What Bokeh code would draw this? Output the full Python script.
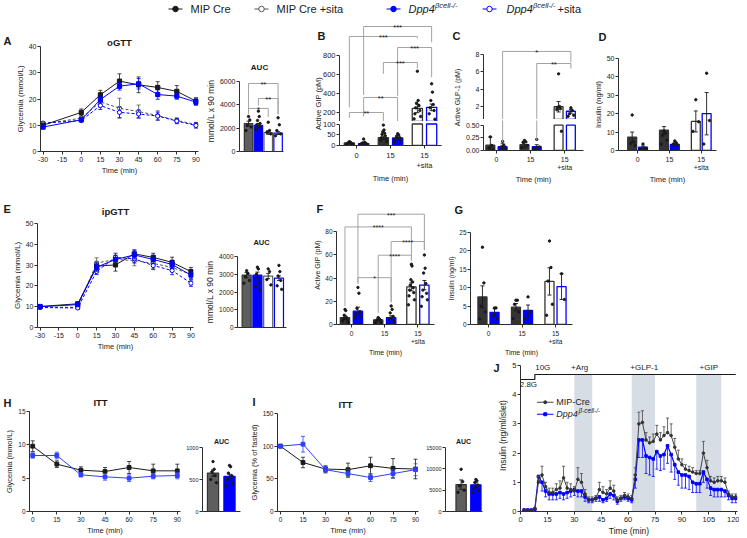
import math
from bokeh.plotting import figure
from bokeh.layouts import column, row
from bokeh.models import Range1d, FixedTicker, Label, NumeralTickFormatter, Spacer
from bokeh.embed import file_html
from bokeh.resources import INLINE
from bokeh.core.properties import value

FONT = "Liberation Sans"
INK = "#1a1a1a"
AX = "#2e2e2e"
BLUE = "#0000ff"
DARK = "#333333"
GRAY = "#5e5e5e"
BRK = "#a3a3a3"
SHADE = "#d7dde5"
INF = float("inf")

# ============================ data ============================
gtt_ticks = [-30, -15, 0, 15, 30, 45, 60, 75, 90]
gtt_tick_labels = ["-30", "-15", "0", "15", "30", "45", "60", "75", "90"]
gtt_time = [-30, 0, 15, 30, 45, 60, 75, 90]

# A  oGTT
ogtt_cre = [10.0, 14.9, 21.6, 26.8, 25.4, 24.4, 22.9, 19.2]
ogtt_cre_se = [0.8, 1.3, 1.7, 2.8, 3.0, 2.2, 2.2, 1.3]
ogtt_ko = [9.3, 12.1, 19.8, 24.9, 25.8, 21.7, 21.1, 18.8]
ogtt_ko_se = [0.6, 0.6, 1.2, 1.5, 2.0, 1.8, 1.2, 1.2]
ogtt_cre_sita = [10.5, 12.7, 18.9, 16.5, 15.2, 13.7, 11.8, 10.3]
ogtt_cre_sita_se = [0.6, 0.8, 1.5, 3.8, 2.5, 1.8, 1.0, 0.8]
ogtt_ko_sita = [10.8, 11.8, 17.5, 14.9, 14.3, 13.5, 11.6, 9.9]
ogtt_ko_sita_se = [0.6, 0.5, 1.5, 2.0, 1.5, 1.5, 1.0, 1.0]

ogtt_auc = [2400, 2250, 1620, 1580]
ogtt_auc_se = [200, 150, 150, 120]
ogtt_auc_pts = [[3000, 2700, 2230, 2100, 1800],
                [3460, 3000, 2660, 2400, 2290, 2090, 1910],
                [2510, 1800, 1650, 1510],
                [2890, 2290, 1800, 1510, 1350]]
ogtt_auc_sig = [("**", 0, 3, 5830, 3340, 3170),
                ("**", 1, 3, 4540, 3940, 3220),
                ("*", 0, 2, 3690, 3220, 2950)]

time_groups = ["0", "15", "15\n+sita"]

# B  active GIP after oral glucose
gip_o_cre = [12, 36, 238]
gip_o_cre_se = [2, 8, 45]
gip_o_ko = [9, 35, 249]
gip_o_ko_se = [3, 4, 35]
gip_o_cre_pts = [[18, 15, 13, 12, 10, 8, 6, 5, 3],
                 [95, 72, 64, 57, 52, 45, 36, 30, 24, 18],
                 [629, 321, 293, 268, 244, 216, 181, 153, 128]]
gip_o_ko_pts = [[30, 15, 12, 10, 8, 6, 5],
                [55, 49, 43, 36, 30, 24, 16],
                [497, 409, 321, 279, 244, 216, 181, 124]]
gip_o_sig = [("**", "0k", "15k", 195, 139, 101),
             ("**", "0b", "15b", 353, 153, 101),
             ("***", "15k", "sk", 721, 602, 661),
             ("***", "15b", "sb", 879, 370, 566),
             ("***", "0k", "sk", 995, 250, 975),
             ("***", "0b", "sb", 1100, 380, 935)]

# C  active GLP-1
glp1_cre = [0.105, 0.117, 1.97]
glp1_cre_se = [0.16, 0.06, 0.6]
glp1_ko = [0.074, 0.074, 1.45]
glp1_ko_se = [0.06, 0.04, 0.22]
glp1_cre_pts = [[0.27, 0.10, 0.05, 0.02], [0.20, 0.17, 0.16, 0.10, 0.06],
                [5.77, 2.0, 1.9, 1.75, 1.65, 0.38]]
glp1_ko_pts = [[0.18, 0.10, 0.07, 0.04], [0.22, 0.07, 0.04],
               [1.85, 1.55, 1.16, 1.0, 0.87]]
glp1_sig = [("*", "0b", "sb", 8.35, ("low", 0.167), 7.08),
            ("**", "15b", "sb", 6.96, ("low", 0.204), 6.38)]

# D  insulin oral
ins_o_cre = [7.3, 11.0, 15.8]
ins_o_cre_se = [2.7, 2.0, 5.7]
ins_o_ko = [1.8, 3.3, 20.0]
ins_o_ko_se = [0.6, 0.8, 11.5]
ins_o_cre_pts = [[19.3, 4.7, 3.8, 2.6], [10.6, 9.4, 8.2, 5.6, 3.5], [27.6, 15.6, 10.4]]
ins_o_ko_pts = [[3.5, 1.2, 0.7], [5.2, 4.2, 3.5, 3.0], [42.0, 16.3, 3.5]]

# E  ipGTT
ipgtt_cre = [10.1, 11.4, 29.5, 30.1, 35.4, 33.7, 31.3, 26.9]
ipgtt_cre_se = [0.5, 0.8, 2.0, 3.0, 2.0, 2.0, 2.5, 2.0]
ipgtt_ko = [10.0, 11.0, 29.0, 32.7, 34.9, 32.7, 30.3, 25.2]
ipgtt_ko_se = [0.5, 0.6, 2.0, 2.0, 2.0, 2.0, 2.0, 2.0]
ipgtt_cre_sita = [9.8, 9.7, 31.0, 32.7, 32.2, 30.8, 28.9, 25.5]
ipgtt_cre_sita_se = [0.5, 0.5, 2.5, 2.0, 2.5, 2.5, 2.0, 2.0]
ipgtt_ko_sita = [9.6, 9.4, 27.0, 33.7, 33.0, 29.8, 27.4, 21.3]
ipgtt_ko_sita_se = [0.5, 0.5, 1.5, 2.0, 2.0, 2.0, 2.0, 1.5]

ipgtt_auc = [2950, 2950, 2900, 2780]
ipgtt_auc_se = [150, 170, 150, 130]
ipgtt_auc_pts = [[3200, 3050, 2850, 2650, 2500],
                 [3400, 3300, 3000, 2500, 2300, 2100],
                 [3300, 3150, 2700, 2400],
                 [3500, 3150, 2900, 2650, 2350, 2150]]

# F  active GIP ip
gip_ip_cre = [6, 4, 32.5]
gip_ip_cre_se = [1.5, 0.8, 3.5]
gip_ip_ko = [11.5, 6, 34]
gip_ip_ko_se = [3.5, 1.5, 4]
gip_ip_cre_pts = [[13, 12, 8, 6, 5, 4, 3, 2], [6, 5, 4, 4, 3, 2, 1.5],
                  [52, 50.5, 38.7, 36.8, 34, 31.7, 29.7, 27.5, 24.7, 21.3, 17]]
gip_ip_ko_pts = [[32, 27, 14, 11, 9, 7, 6], [16, 13, 10, 7, 5, 3],
                 [60, 48.6, 44.4, 35.4, 29.7, 26.9, 24, 21.3, 15.7]]
gip_ip_sig = [("***", "0b", "sb", 95.2, 36, 65),
              ("****", "0k", "sk", 84.2, 16, 56),
              ("****", "15b", "sb", 71.6, 20, 64),
              ("****", "15k", "sk", 59.8, 10, 55),
              ("*", "0b", "15b", 40.4, 35, 19)]

# G  insulin ip
ins_ip_cre = [7.5, 4.7, 11.7]
ins_ip_cre_se = [3.0, 1.0, 3.7]
ins_ip_ko = [3.3, 3.8, 10.3]
ins_ip_ko_se = [1.0, 1.5, 3.5]
ins_ip_cre_pts = [[21, 11.3, 5, 3.4, 1.5], [6.6, 6.6, 5.5, 3.4, 1.6], [22.7, 15.5, 11.8, 5.5, 2.5]]
ins_ip_ko_pts = [[4.5, 4.5, 2.5, 1.5], [7.5, 3.4, 1.5], [13.8, 6.8]]

# H / I  ITT
itt_time = [0, 15, 30, 45, 60, 75, 90]
itt_cre = [9.8, 7.1, 6.2, 6.0, 6.6, 6.1, 6.1]
itt_cre_se = [0.8, 0.5, 0.5, 0.6, 0.9, 1.0, 1.0]
itt_ko = [8.4, 8.4, 5.5, 5.2, 5.0, 5.3, 5.4]
itt_ko_se = [0.4, 0.5, 0.3, 0.5, 0.5, 0.4, 0.5]
itt_auc = [600, 548]
itt_auc_se = [50, 35]
itt_auc_pts = [[780, 660, 620, 560, 500, 450], [720, 700, 600, 560, 500, 440, 400]]

itt_pct_cre = [100, 75, 65, 64, 70, 66, 65]
itt_pct_cre_se = [0, 8, 5, 10, 13, 15, 15]
itt_pct_ko = [100, 103, 64, 58, 52, 58, 64]
itt_pct_ko_se = [0, 12, 5, 6, 6, 6, 9]
itt_pct_auc = [6300, 6250]
itt_pct_auc_se = [1100, 600]
itt_pct_auc_pts = [[9900, 7000, 6000, 5000, 4500], [7500, 7200, 6800, 6200, 5600, 5000, 4500]]

# J  perifusion
peri_t = [2, 4, 6, 8, 10, 12, 14, 16, 18, 20, 22, 24, 26, 28, 30, 32, 34, 36, 38, 40,
          42, 44, 46, 48, 50, 52, 54, 56, 58, 60, 62, 64, 66, 68, 70, 72, 74, 76, 78, 80,
          82, 84, 86, 88, 90, 92, 94, 96, 98, 100, 102, 104, 106, 108, 110, 112, 114, 116, 118, 120]
peri_cre = [0.05, 0.05, 0.05, 0.1, 1.0, 1.25, 0.85, 0.65, 0.65, 0.75, 0.8, 1.15, 0.8, 0.75, 0.7,
            1.1, 1.0, 0.6, 0.4, 0.4, 0.45, 0.75, 0.65, 0.6, 0.8, 0.7, 0.4, 0.45, 0.55, 0.5,
            0.45, 1.25, 3.0, 3.05, 2.45, 2.35, 2.4, 2.65, 2.45, 2.6, 2.7, 2.6, 2.2, 1.8, 1.6,
            1.45, 1.4, 1.35, 1.3, 1.3, 2.0, 1.5, 1.05, 1.0, 1.05, 1.05, 1.0, 0.6, 0.5, 0.5]
peri_cre_se = [0.02, 0.02, 0.02, 0.02, 0.2, 0.3, 0.15, 0.15, 0.15, 0.2, 0.25, 0.4, 0.2, 0.2, 0.15,
               0.4, 0.3, 0.15, 0.1, 0.1, 0.1, 0.25, 0.2, 0.15, 0.25, 0.2, 0.1, 0.1, 0.1, 0.1,
               0.1, 0.25, 0.4, 0.4, 0.25, 0.2, 0.25, 0.3, 0.25, 0.3, 0.5, 0.4, 0.3, 0.3, 0.2,
               0.15, 0.15, 0.15, 0.1, 0.1, 0.4, 0.25, 0.15, 0.15, 0.15, 0.15, 0.15, 0.1, 0.1, 0.1]
peri_ko = [0.05, 0.05, 0.05, 0.08, 1.2, 1.0, 0.7, 0.6, 0.6, 0.6, 0.65, 0.6, 0.65, 0.7, 0.75,
           0.7, 0.7, 0.5, 0.4, 0.4, 0.45, 0.5, 0.4, 0.45, 0.6, 0.55, 0.35, 0.45, 0.5, 0.45,
           0.4, 1.1, 2.45, 2.45, 1.9, 1.85, 1.8, 2.05, 1.9, 1.95, 2.25, 1.95, 1.6, 1.35, 1.25,
           1.25, 1.2, 1.0, 0.95, 0.95, 1.35, 1.1, 0.8, 0.75, 0.75, 0.75, 0.7, 0.55, 0.45, 0.45]
peri_ko_se = [0.02, 0.02, 0.02, 0.02, 0.15, 0.3, 0.2, 0.2, 0.2, 0.2, 0.2, 0.2, 0.2, 0.2, 0.2,
              0.2, 0.2, 0.15, 0.1, 0.1, 0.1, 0.15, 0.1, 0.1, 0.15, 0.15, 0.1, 0.1, 0.1, 0.1,
              0.1, 0.3, 0.6, 0.6, 0.6, 0.6, 0.6, 0.6, 0.5, 0.5, 0.6, 0.6, 0.5, 0.45, 0.45,
              0.45, 0.45, 0.35, 0.3, 0.3, 0.35, 0.3, 0.25, 0.25, 0.25, 0.25, 0.2, 0.15, 0.15, 0.15]
stim_start = [30, 62, 98]
stim_end = [40, 75, 112]
protocol_t = [0, 8, 8, 120]
protocol_level = [4.52, 4.52, 4.69, 4.69]
protocol_labels = ["2.8G", "10G", "+Arg", "+GLP-1", "+GIP"]
protocol_label_t = [4.4, 12.4, 33, 69, 105]
protocol_label_y = [4.36, 4.93, 4.93, 4.93, 4.93]


# ============================ helpers ============================
def style_axis(ax, tick="7px", lab="7.5px", ls=2, als=1):
    ax.axis_line_color = AX
    ax.axis_line_width = 1
    ax.major_tick_line_color = AX
    ax.major_tick_line_width = 1
    ax.major_tick_out = 3
    ax.major_tick_in = 0
    ax.minor_tick_line_color = None
    ax.major_label_text_font = FONT
    ax.major_label_text_font_size = tick
    ax.major_label_text_color = INK
    ax.axis_label_text_font = FONT
    ax.axis_label_text_font_size = lab
    ax.axis_label_text_font_style = "normal"
    ax.axis_label_text_color = INK
    ax.major_label_standoff = ls
    ax.axis_label_standoff = als


def style_all(p, tick, lab):
    for ax in p.xaxis:
        style_axis(ax, tick, lab, 2, 1)
    for ax in p.yaxis:
        style_axis(ax, tick, lab, 1, 1)


def make_fig(bw, bh, bl, br, bt, bb, xr, yr, xaxis=True, yaxis=True):
    p = figure(width=bw, height=bh, x_range=Range1d(*xr), y_range=Range1d(*yr),
               min_border_left=bl, min_border_right=br, min_border_top=bt, min_border_bottom=bb,
               x_axis_location="below" if xaxis else None,
               y_axis_location="left" if yaxis else None,
               output_backend="svg", toolbar_location=None, tools="")
    p.frame_align = False
    p.outline_line_color = None
    p.grid.visible = False
    p.background_fill_color = "white"
    p.border_fill_color = "white"
    return p


def errbars(p, xs, m, se, color, cap=4, lw=0.9, up=True, down=True):
    lo = [a - b if down else a for a, b in zip(m, se)]
    hi = [a + b if up else a for a, b in zip(m, se)]
    p.segment(xs, lo, xs, hi, line_color=color, line_width=lw)
    if up:
        p.scatter(xs, hi, marker="dash", size=cap, line_color=color, line_width=lw)
    if down:
        p.scatter(xs, lo, marker="dash", size=cap, line_color=color, line_width=lw)


def spread(n, half):
    if n <= 1:
        return [0.0] * n
    s = half / max(n // 2, 1)
    out = []
    for i in range(n):
        j = (i + 1) // 2
        out.append(0.0 if i == 0 else (j * s if i % 2 else -j * s))
    return out


def series(p, t, m, se, color, dash="solid", filled=True, msize=4.2, lw=1.0):
    errbars(p, t, m, se, color, cap=4, lw=0.8)
    p.line(t, m, line_color=color, line_width=lw, line_dash=dash)
    p.scatter(t, m, marker="square" if filled else "circle", size=msize,
              fill_color=color if filled else "white", line_color=color, line_width=1)


def line_axes(p, xticks, yticks, xlabel, ylabel, tick="7px", lab="7.5px", xlabels=None):
    p.xaxis.ticker = FixedTicker(ticks=xticks)
    p.yaxis.ticker = FixedTicker(ticks=yticks)
    if xlabels:
        p.xaxis.major_label_overrides = dict(zip(xticks, xlabels))
    p.xaxis.axis_label = xlabel
    p.yaxis.axis_label = ylabel
    style_all(p, tick, lab)


def auc_panel(p, vals, ses, pts, fills, lines, width, yticks, ybounds, ylabel=None,
              tick="7px", lab="8.5px", dot=2.4):
    xs = list(range(len(vals)))
    p.vbar(x=xs, top=vals, width=width, fill_color=fills, line_color=lines, line_width=1.2)
    errbars(p, xs, vals, ses, INK)
    for x, pp in zip(xs, pts):
        offs = spread(len(pp), width * 0.3)
        p.scatter([x + o for o in offs], pp, size=dot, color=INK)
    p.xaxis.ticker = FixedTicker(ticks=[])
    p.yaxis.ticker = FixedTicker(ticks=yticks)
    p.yaxis.bounds = ybounds
    if ylabel:
        p.yaxis.axis_label = ylabel
    style_all(p, tick, lab)
    return xs


def group_bars(targets, cre, cre_se, cre_pts, ko, ko_se, ko_pts, off, width, dot=2.4):
    """targets: list of (figure, lo, hi) value windows (a broken axis uses two figures)."""
    xk = [g - off for g in range(3)]
    xb = [g + off for g in range(3)]
    specs = [(xk, cre, cre_se, cre_pts, [DARK, DARK, "white"], DARK),
             (xb, ko, ko_se, ko_pts, [BLUE, BLUE, "white"], BLUE)]
    for xs, vals, ses, pts, fills, lc in specs:
        for p, lo, hi in targets:
            idx = [i for i, v in enumerate(vals) if v > lo]
            if idx:
                p.vbar(x=[xs[i] for i in idx], bottom=lo, top=[min(vals[i], hi) for i in idx],
                       width=width, fill_color=[fills[i] for i in idx], line_color=lc, line_width=1.3)
            for i in range(3):
                if lo <= vals[i] < hi:
                    errbars(p, [xs[i]], [vals[i]], [ses[i]], INK)
                offs = spread(len(pts[i]), width * 0.32)
                sel = [(xs[i] + o, v) for o, v in zip(offs, pts[i]) if lo <= v < hi]
                if sel:
                    p.scatter([a for a, _ in sel], [b for _, b in sel], size=dot, color=INK)
    return {"0k": xk[0], "0b": xb[0], "15k": xk[1], "15b": xb[1], "sk": xk[2], "sb": xb[2]}


def group_xaxis(p):
    p.xaxis.ticker = FixedTicker(ticks=[0, 1, 2])
    p.xaxis.major_label_overrides = dict(zip([0, 1, 2], time_groups))
    p.xaxis.axis_label = "Time (min)"


def brackets(p, specs, xpos, fs="7.5px", low=None):
    xs, ys, tx, ty, tt = [], [], [], [], []
    lx, ly0, ly1 = [], [], []
    y_floor = p.y_range.start - 1e6
    for lab, i, j, y, le, re in specs:
        x1, x2 = xpos[i], xpos[j]
        xs.append([x1, x2])
        ys.append([y, y])
        for x, e in ((x1, le), (x2, re)):
            if isinstance(e, tuple):
                xs.append([x, x])
                ys.append([y, y_floor])
                lx.append(x)
                ly0.append(low.y_range.end + 1e6)
                ly1.append(e[1])
            else:
                xs.append([x, x])
                ys.append([y, e])
        tx.append((x1 + x2) / 2)
        ty.append(y)
        tt.append(lab)
    p.multi_line(xs, ys, line_color=BRK, line_width=1)
    if lx:
        low.segment(lx, ly0, lx, ly1, line_color=BRK, line_width=1)
    p.text(tx, ty, text=tt, text_align="center", text_baseline="alphabetic",
           text_font=value(FONT), text_font_size=fs, text_color=INK, y_offset=1)


# ============================ row 1 (y 19-186) ============================
pA = make_fig(202, 167, 40, 4, 27, 35, (-32, 92), (0, 40))
series(pA, gtt_time, ogtt_cre_sita, ogtt_cre_sita_se, "#555555", dash="3 2", filled=False)
series(pA, gtt_time, ogtt_ko_sita, ogtt_ko_sita_se, BLUE, dash="3 2", filled=False)
series(pA, gtt_time, ogtt_cre, ogtt_cre_se, INK)
series(pA, gtt_time, ogtt_ko, ogtt_ko_se, BLUE)
line_axes(pA, gtt_ticks, [0, 10, 20, 30, 40], "Time (min)", "Glycemia (mmol/L)", "7px", "7.5px",
          gtt_tick_labels)
pA.yaxis.axis_label_text_font_size = "8px"

pAa = make_fig(98, 167, 34, 17, 51, 35, (-0.92, 3.55), (0, 6943))
xa = auc_panel(pAa, ogtt_auc, ogtt_auc_se, ogtt_auc_pts, [GRAY, BLUE, "white", "white"],
               [DARK, BLUE, GRAY, BLUE], 0.86, [0, 2000, 4000, 6000], (0, 6000),
               "mmol/L x 90 min", "7px", "8.5px")
brackets(pAa, ogtt_auc_sig, xa, fs="7.5px")

# B: broken axis -> upper (100-800) and lower (0-100) figures
pBu = make_fig(145, 102, 39, 4, 0, 0, (-0.5, 2.5), (100, 1173.7), xaxis=False)
pBl = make_fig(145, 65, 39, 4, 1, 34, (-0.5, 2.5), (0, 107.1))
xpb = group_bars([(pBl, 0, 100), (pBu, 100, INF)], gip_o_cre, gip_o_cre_se, gip_o_cre_pts,
                 gip_o_ko, gip_o_ko_se, gip_o_ko_pts, 0.21, 0.3)
pBu.yaxis.ticker = FixedTicker(ticks=[200, 400, 600, 800])
pBu.yaxis.bounds = (100, 800)
pBl.yaxis.ticker = FixedTicker(ticks=[0, 50, 100])
pBl.yaxis.bounds = (0, 100)
group_xaxis(pBl)
brackets(pBu, gip_o_sig, xpb, fs="7.5px")
style_all(pBu, "7.5px", "7.5px")
style_all(pBl, "7.5px", "7.5px")

# C: broken axis
pCu = make_fig(145, 100, 38, 7, 21, 0, (-0.38, 2.55), (0.5, 9.615), xaxis=False)
pCl = make_fig(145, 67, 38, 7, 1, 34, (-0.38, 2.55), (0, 0.5926))
xpc = group_bars([(pCl, 0, 0.5), (pCu, 0.5, INF)], glp1_cre, glp1_cre_se, glp1_cre_pts,
                 glp1_ko, glp1_ko_se, glp1_ko_pts, 0.18, 0.26)
pCu.yaxis.ticker = FixedTicker(ticks=[2, 4, 6, 8])
pCu.yaxis.bounds = (0.5, 8)
pCl.yaxis.ticker = FixedTicker(ticks=[0, 0.25, 0.5])
pCl.yaxis.bounds = (0, 0.5)
pCl.yaxis.formatter = NumeralTickFormatter(format="0.00")
group_xaxis(pCl)
brackets(pCu, glp1_sig, xpc, fs="7.5px", low=pCl)
style_all(pCu, "7px", "7.5px")
style_all(pCl, "7px", "7.5px")

pD = make_fig(149, 167, 23, 23, 39, 32, (-0.6, 2.48), (0, 50))
group_bars([(pD, 0, INF)], ins_o_cre, ins_o_cre_se, ins_o_cre_pts, ins_o_ko, ins_o_ko_se,
           ins_o_ko_pts, 0.17, 0.28)
group_xaxis(pD)
pD.yaxis.ticker = FixedTicker(ticks=[0, 10, 20, 30, 40, 50])
pD.yaxis.axis_label = "Insulin (ng/ml)"
style_all(pD, "7px", "7.5px")

# ============================ row 2 (y 186-358) ============================
pE = make_fig(202, 172, 37, 9, 37, 31, (-32, 92), (0, 50))
series(pE, gtt_time, ipgtt_cre_sita, ipgtt_cre_sita_se, "#555555", dash="3 2", filled=False)
series(pE, gtt_time, ipgtt_ko_sita, ipgtt_ko_sita_se, BLUE, dash="3 2", filled=False)
series(pE, gtt_time, ipgtt_cre, ipgtt_cre_se, INK)
series(pE, gtt_time, ipgtt_ko, ipgtt_ko_se, BLUE)
line_axes(pE, gtt_ticks, [0, 10, 20, 30, 40, 50], "Time (min)", "Glycemia (mmol/L)", "7px", "7.5px",
          gtt_tick_labels)
pE.yaxis.axis_label_text_font_size = "8px"

pEa = make_fig(98, 172, 34, 14, 70, 31, (-0.85, 3.7), (0, 4000))
auc_panel(pEa, ipgtt_auc, ipgtt_auc_se, ipgtt_auc_pts, [GRAY, BLUE, "white", "white"],
          [DARK, BLUE, GRAY, BLUE], 0.84, [0, 1000, 2000, 3000, 4000], (0, 4000),
          "mmol/L x 90 min", "6.5px", "8.5px")

pF = make_fig(140, 172, 36, 6, 19, 31, (-0.45, 2.5), (0, 102.7))
xpf = group_bars([(pF, 0, INF)], gip_ip_cre, gip_ip_cre_se, gip_ip_cre_pts, gip_ip_ko,
                 gip_ip_ko_se, gip_ip_ko_pts, 0.195, 0.28)
group_xaxis(pF)
pF.yaxis.ticker = FixedTicker(ticks=[0, 20, 40, 60, 80])
pF.yaxis.bounds = (0, 80)
pF.yaxis.axis_label = "Active GIP (pM)"
brackets(pF, gip_ip_sig, xpf, fs="7px")
style_all(pF, "6.5px", "7px")

pG = make_fig(299, 172, 30, 167, 46, 30, (-0.537, 2.507), (0, 25))
group_bars([(pG, 0, INF)], ins_ip_cre, ins_ip_cre_se, ins_ip_cre_pts, ins_ip_ko, ins_ip_ko_se,
           ins_ip_ko_pts, 0.18, 0.27)
group_xaxis(pG)
pG.yaxis.ticker = FixedTicker(ticks=[0, 5, 10, 15, 20, 25])
pG.yaxis.axis_label = "Insulin (ng/ml)"
style_all(pG, "6.5px", "7px")

# ============================ row 3 (y 358-538) ============================
pH = make_fig(182, 180, 29, 2, 53, 27, (-2, 92), (0, 15))
series(pH, itt_time, itt_cre, itt_cre_se, INK, msize=3.8)
series(pH, itt_time, itt_ko, itt_ko_se, "#2f3fff", msize=3.8)
line_axes(pH, [0, 15, 30, 45, 60, 75, 90], [0, 5, 10, 15], "Time (min)", "Glycemia (mmol/L)",
          "6.5px", "7.5px")

pHa = make_fig(64, 180, 20, 6, 89, 27, (-0.64, 1.67), (0, 1000))
auc_panel(pHa, itt_auc, itt_auc_se, itt_auc_pts, [GRAY, BLUE], [DARK, BLUE], 0.68,
          [0, 500, 1000], (0, 1000), None, "5.5px", "7px")

pI = make_fig(177, 180, 26, 5, 55, 27, (-2, 92), (0, 150))
series(pI, itt_time, itt_pct_cre, itt_pct_cre_se, INK, msize=3.8)
series(pI, itt_time, itt_pct_ko, itt_pct_ko_se, "#2f3fff", msize=3.8)
line_axes(pI, [0, 15, 30, 45, 60, 75, 90], [0, 50, 100, 150], "Time (min)",
          "Glycemia (% of fasted)", "6.5px", "7.5px")

pIa = make_fig(67, 180, 20, 8, 89, 27, (-1.06, 1.45), (0, 15000))
auc_panel(pIa, itt_pct_auc, itt_pct_auc_se, itt_pct_auc_pts, [GRAY, BLUE], [DARK, BLUE], 0.7,
          [0, 5000, 10000, 15000], (0, 15000), None, "5.5px", "7px")

pJ = make_fig(249, 180, 30, 2, 1, 26, (0, 121), (0, 5.204))
pJ.quad(left=stim_start, right=stim_end, bottom=0, top=protocol_level[-1], fill_color=SHADE,
        line_color=None)
pJ.line(protocol_t, protocol_level, line_color=INK, line_width=1.2)
for t, y, txt in zip(protocol_label_t, protocol_label_y, protocol_labels):
    pJ.add_layout(Label(x=t, y=y, text=txt, text_font=FONT, text_font_size="8px",
                        text_align="center", text_baseline="middle", text_color=INK))
errbars(pJ, peri_t, peri_ko, peri_ko_se, BLUE, cap=3, lw=0.8, up=False)
pJ.line(peri_t, peri_ko, line_color=BLUE, line_width=1.2)
pJ.scatter(peri_t, peri_ko, marker="square", size=2.6, color=BLUE)
errbars(pJ, peri_t, peri_cre, peri_cre_se, "#444444", cap=3, lw=0.8, down=False)
pJ.line(peri_t, peri_cre, line_color="#444444", line_width=1)
pJ.scatter(peri_t, peri_cre, marker="circle", size=2.6, color="#333333")
line_axes(pJ, [0, 15, 30, 45, 60, 75, 90, 105, 120], [0, 1, 2, 3, 4, 5], "Time (min)",
          "Insulin (ng/ml/islet)", "7.5px", "8.5px")
pJ.yaxis.bounds = (0, 5)
jl_y = [3.74, 3.33]
pJ.segment([9.2, 9.2], jl_y, [18.4, 18.4], jl_y, line_color=["#444444", BLUE], line_width=1)
pJ.scatter([13.8], [jl_y[0]], marker="circle", size=3, color="#333333")
pJ.scatter([13.8], [jl_y[1]], marker="square", size=3, color=BLUE)
for x, y, txt, sz, st in [(19.9, jl_y[0], "MIP-Cre", "9px", "normal"),
                          (19.9, jl_y[1], "Dpp4", "9px", "italic"),
                          (32.3, jl_y[1] + 0.13, "β-cell-/-", "6.5px", "italic")]:
    pJ.add_layout(Label(x=x, y=y, text=txt, text_font=FONT, text_font_size=sz, text_font_style=st,
                        text_align="left", text_baseline="middle", text_color=INK))

# ============================ overlay: legend, panel letters, titles ============================
ov = figure(width=739, height=538, x_range=Range1d(0, 739), y_range=Range1d(538, 0),
            min_border_left=0, min_border_right=0, min_border_top=0, min_border_bottom=0,
            x_axis_location=None, y_axis_location=None, output_backend="svg",
            toolbar_location=None, tools="", margin=(-538, 0, 0, 0))
ov.frame_align = False
ov.outline_line_color = None
ov.background_fill_color = None
ov.border_fill_color = None
ov.grid.visible = False

ly = 8.5
ov.segment([168, 254, 386, 482], [ly] * 4, [182, 268, 400, 496], [ly] * 4,
           line_color=[INK, "#555555", BLUE, BLUE], line_width=1.2)
ov.scatter([175, 261, 393, 489], [ly] * 4, marker="circle", size=5.5,
           fill_color=[INK, "white", BLUE, "white"], line_color=[INK, "#555555", BLUE, BLUE],
           line_width=1)


def otext(x, y, t, size="7px", style="normal", align="center", angle=0.0):
    ov.add_layout(Label(x=x, y=y, text=t, text_font=FONT, text_font_size=size,
                        text_font_style=style, text_align=align, text_baseline="middle",
                        angle=angle, text_color=INK))


otext(190, ly, "MIP Cre", "11px", align="left")
otext(276, ly, "MIP Cre +sita", "11px", align="left")
otext(408, ly, "Dpp4", "11px", "italic", "left")
otext(434.5, ly - 3.5, "βcell-/-", "7.5px", "italic", "left")
otext(506, ly, "Dpp4", "11px", "italic", "left")
otext(532.5, ly - 3.5, "βcell-/-", "7.5px", "italic", "left")
otext(557, ly, "+sita", "11px", align="left")

for x, y, t in [(3, 40, "A"), (317, 35, "B"), (452, 35, "C"), (598, 36, "D"),
                (3, 208, "E"), (316, 208, "F"), (454, 209, "G"),
                (3, 402, "H"), (252, 401, "I"), (493, 367, "J")]:
    otext(x, y, t, "11px", "bold", "left")

otext(119, 42, "oGTT", "9.5px", "bold")
otext(259, 67, "AUC", "8px", "bold")
otext(115, 211, "ipGTT", "9.5px", "bold")
otext(261, 242, "AUC", "7.5px", "bold")
otext(100, 402, "ITT", "9.5px", "bold")
otext(221, 441, "AUC", "7px", "bold")
otext(345, 404, "ITT", "9.5px", "bold")
otext(463, 441, "AUC", "7px", "bold")
otext(318, 103, "Active GIP (pM)", "7.5px", angle=math.pi / 2)
otext(457, 97, "Active GLP-1 (pM)", "7px", angle=math.pi / 2)

layout = column(Spacer(width=739, height=19),
                row(pA, pAa, column(pBu, pBl), column(pCu, pCl), pD),
                row(pE, pEa, pF, pG),
                row(pH, pHa, pI, pIa, pJ),
                ov)

open("out.html", "w").write(file_html(layout, INLINE, "figure"))
